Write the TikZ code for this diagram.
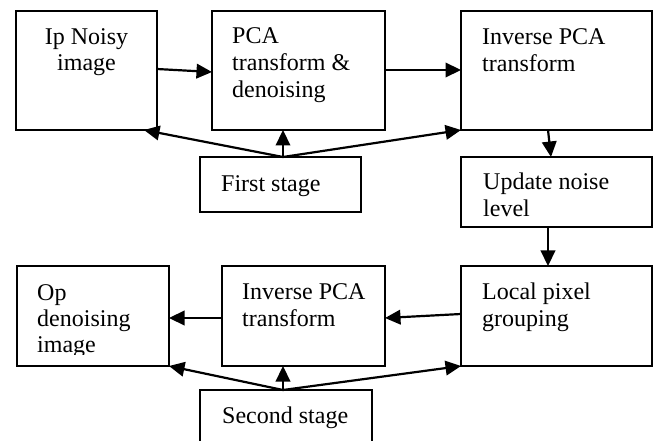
\documentclass[tikz,border=0pt]{standalone}
\usepackage{fontspec}
\setmainfont{Liberation Serif}
\usetikzlibrary{arrows.meta}
\begin{document}
\begin{tikzpicture}[x=1pt,y=-1pt,
  box/.style={draw,line width=2pt,inner sep=0pt,outer sep=0pt},
  lbl/.style={inner sep=0pt,anchor=base west,font=\fontsize{24}{26.5}\selectfont},
  clbl/.style={lbl,anchor=base},
  arr/.style={line width=2.2pt,-{Triangle[length=15.5pt,width=14.5pt]}}]
\clip (0,0) rectangle (654,441);
\fill[white] (0,0) rectangle (654,441);
% boxes
\node[box,minimum width=141pt,minimum height=119pt] (b1) at (86.5,70.5) {};
\node[box,minimum width=173pt,minimum height=119pt] (b2) at (298.5,70.5) {};
\node[box,minimum width=191pt,minimum height=119pt] (b3) at (556.5,70.5) {};
\node[box,minimum width=161pt,minimum height=55pt] (fs) at (280.5,184.5) {};
\node[box,minimum width=191pt,minimum height=70pt] (un) at (556.5,192) {};
\node[box,minimum width=152pt,minimum height=100pt] (op) at (93,316) {};
\node[box,minimum width=163pt,minimum height=100pt] (ip2) at (303.5,316) {};
\node[box,minimum width=191pt,minimum height=100pt] (lp) at (556.5,316) {};
\node[box,minimum width=172pt,minimum height=80pt] (ss) at (286,430) {};
% texts
\node[clbl] (t1a) at (86.5,45) {Ip Noisy};
\node[clbl] (t1b) at (86.5,71) {image};
\node[lbl] (t2a) at (232,44) {PCA};
\node[lbl] (t2b) at (232,71) {transform \&};
\node[lbl] (t2c) at (232,98) {denoising};
\node[lbl] (t3a) at (482,45) {Inverse PCA};
\node[lbl] (t3b) at (482,72) {transform};
\node[lbl] (tfs) at (221,192) {First stage};
\node[lbl] (tuna) at (483,190) {Update noise};
\node[lbl] (tunb) at (483,217) {level};
\begin{scope}
\clip (0,0) rectangle (654,354);
\node[lbl] (topa) at (37,300) {Op};
\node[lbl] (topb) at (37,326) {denoising};
\node[lbl] (topc) at (37,352) {image};
\end{scope}
\node[lbl] (tipa) at (242,299) {Inverse PCA};
\node[lbl] (tipb) at (242,326) {transform};
\node[lbl] (tlpa) at (482,299) {Local pixel};
\node[lbl] (tlpb) at (482,326) {grouping};
\node[lbl] (tss) at (222,423) {Second stage};
% connectors
\coordinate (fstop) at ([xshift=2.5pt]fs.north);
\coordinate (sstop) at ([xshift=-3pt]ss.north);
\draw[arr] (b1.east |- 0,69) -- (b2.west |- 0,72);
\draw[arr] (b2.east |- 0,70) -- (b3.west |- 0,70);
\draw[arr] (fstop) -- ([xshift=-13pt]b1.south east);
\draw[arr] (fstop) -- (fstop |- b2.south);
\draw[arr] (fstop) -- (b3.south west);
\draw[arr] ([xshift=-8.5pt]b3.south) -- ([xshift=-5.5pt]un.north);
\draw[arr] ([xshift=-8.5pt]un.south) -- ([xshift=-8.5pt]lp.north);
\draw[arr] (lp.west |- 0,314) -- (ip2.east |- 0,318);
\draw[arr] (ip2.west |- 0,318) -- (op.east |- 0,318);
\draw[arr] (sstop) -- (op.south east);
\draw[arr] (sstop) -- (sstop |- ip2.south);
\draw[arr] (sstop) -- (lp.south west);
\end{tikzpicture}
\end{document}
